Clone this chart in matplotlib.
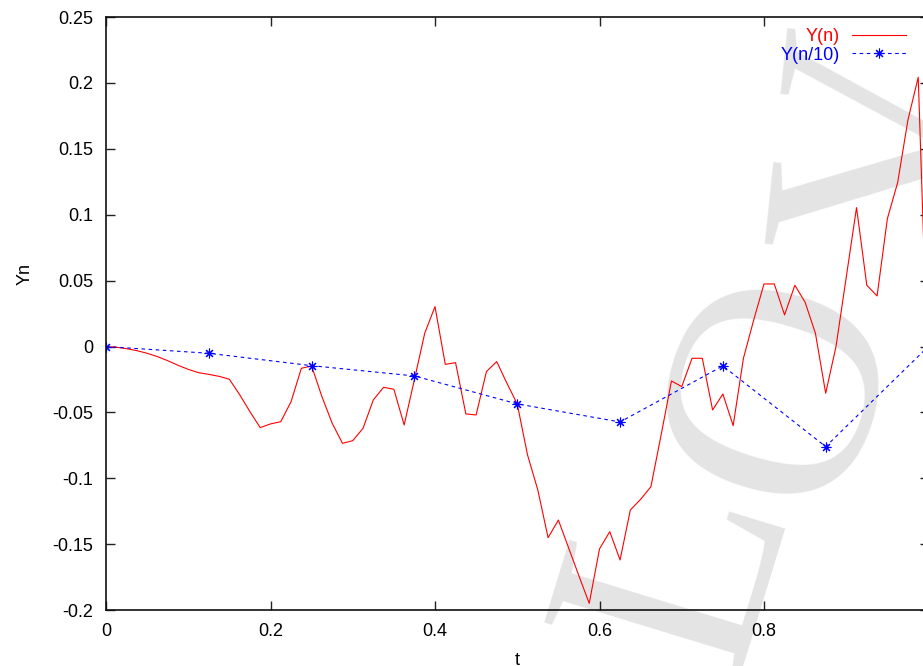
import numpy as np
import matplotlib.pyplot as plt
from matplotlib.ticker import FormatStrFormatter

plt.rcParams['font.family'] = ['Liberation Sans', 'DejaVu Sans']
plt.rcParams['axes.unicode_minus'] = False

# ---------------------------------------------
# data
# ---------------------------------------------
# fine path Y(n): 80 steps on [0, 1]
y_fine = [0.0, -0.0005, -0.0016, -0.0031, -0.0051, -0.0076, -0.0107, -0.0142,
          -0.0173, -0.0198, -0.0211, -0.0226, -0.0248, -0.0365, -0.0494, -0.0615,
          -0.0587, -0.0570, -0.0418, -0.0165, -0.0147, -0.0380, -0.0582, -0.0734,
          -0.0714, -0.0620, -0.0405, -0.0309, -0.0324, -0.0595, -0.0250, 0.0101,
          0.0303, -0.0135, -0.0122, -0.0511, -0.0519, -0.0190, -0.0114, -0.0279,
          -0.0436, -0.0822, -0.1088, -0.1450, -0.1316, -0.1528, -0.1740, -0.1948,
          -0.1535, -0.1404, -0.1619, -0.1240, -0.1159, -0.1063, -0.0668, -0.0261,
          -0.0304, -0.0089, -0.0089, -0.0481, -0.0360, -0.0600, -0.0089, 0.0202,
          0.0475, 0.0475, 0.0240, 0.0465, 0.0336, 0.0101, -0.0354, -0.0001,
          0.0526, 0.1054, 0.0465, 0.0384, 0.0970, 0.1244, 0.1719, 0.2043,
          -0.032]
# coarse path Y(n/10): 8 steps on [0, 1]
y_coarse = [0.0, -0.0051, -0.0145, -0.0223, -0.0435, -0.0572, -0.0147, -0.0759, 0.0002]

t_fine = np.arange(len(y_fine)) / (len(y_fine) - 1)
t_coarse = np.arange(len(y_coarse)) / (len(y_coarse) - 1)

xticks = [0, 0.2, 0.4, 0.6, 0.8, 1.0]
yticks = [-0.2, -0.15, -0.1, -0.05, 0, 0.05, 0.1, 0.15, 0.2, 0.25]

# watermark letters, centres (pixels from top-left) and tilt
wm_letters = ['L', 'O', 'V']
wm_centres = [(655, 560), (758, 378), (868, 142)]
wm_angles = [73, 73, 84]

W, H = 923, 666

# ---------------------------------------------
# figure
# ---------------------------------------------
fig = plt.figure(figsize=(W / 100, H / 100), dpi=100)
ax = fig.add_axes([106/W, 1 - 610.2/H, 822.5/W, 593.2/H])
ax.set_facecolor('none')

# faint watermark behind everything
for ch, (px, py), ang in zip(wm_letters, wm_centres, wm_angles):
    fig.text(px / W, 1 - py / H, ch, family='Liberation Serif', fontsize=223,
             color='#e4e4e4', rotation=ang, rotation_mode='anchor',
             ha='center', va='center_baseline', zorder=-1)

ax.plot(t_fine, y_fine, color='#ff0000', lw=0.8, label='Y(n)')
ax.plot(t_coarse, y_coarse, color='#0000ff', lw=0.8, ls=(0, (3.2, 3.2)),
        marker=(8, 2, 0), ms=7, mew=0.8, label='Y(n/10)')

ax.set_xlim(0, 1)
ax.set_ylim(-0.2, 0.25)
ax.set_xticks(xticks)
ax.set_yticks(yticks)
ax.xaxis.set_major_formatter(FormatStrFormatter('%g'))
ax.yaxis.set_major_formatter(FormatStrFormatter('%g'))
ax.tick_params(direction='in', length=6.5, width=1.0, color='#222222',
               top=True, right=True, labelsize=13, pad=9)
for sp in ax.spines.values():
    sp.set_linewidth(1.2)
    sp.set_color('#111111')

ax.set_xlabel('t', fontsize=13, labelpad=9)
ax.set_ylabel('Yn', fontsize=13, va='center')
ax.yaxis.set_label_coords(-0.0985, 0.567)

leg = ax.legend(loc='upper right', bbox_to_anchor=(906/W, 1 - 28/H),
                bbox_transform=fig.transFigure, frameon=False, markerfirst=False,
                handlelength=3.0, handletextpad=0.66, labelspacing=0.1,
                borderpad=0, borderaxespad=0, fontsize=13, labelcolor='linecolor')

fig.savefig('out.png', dpi=100)
